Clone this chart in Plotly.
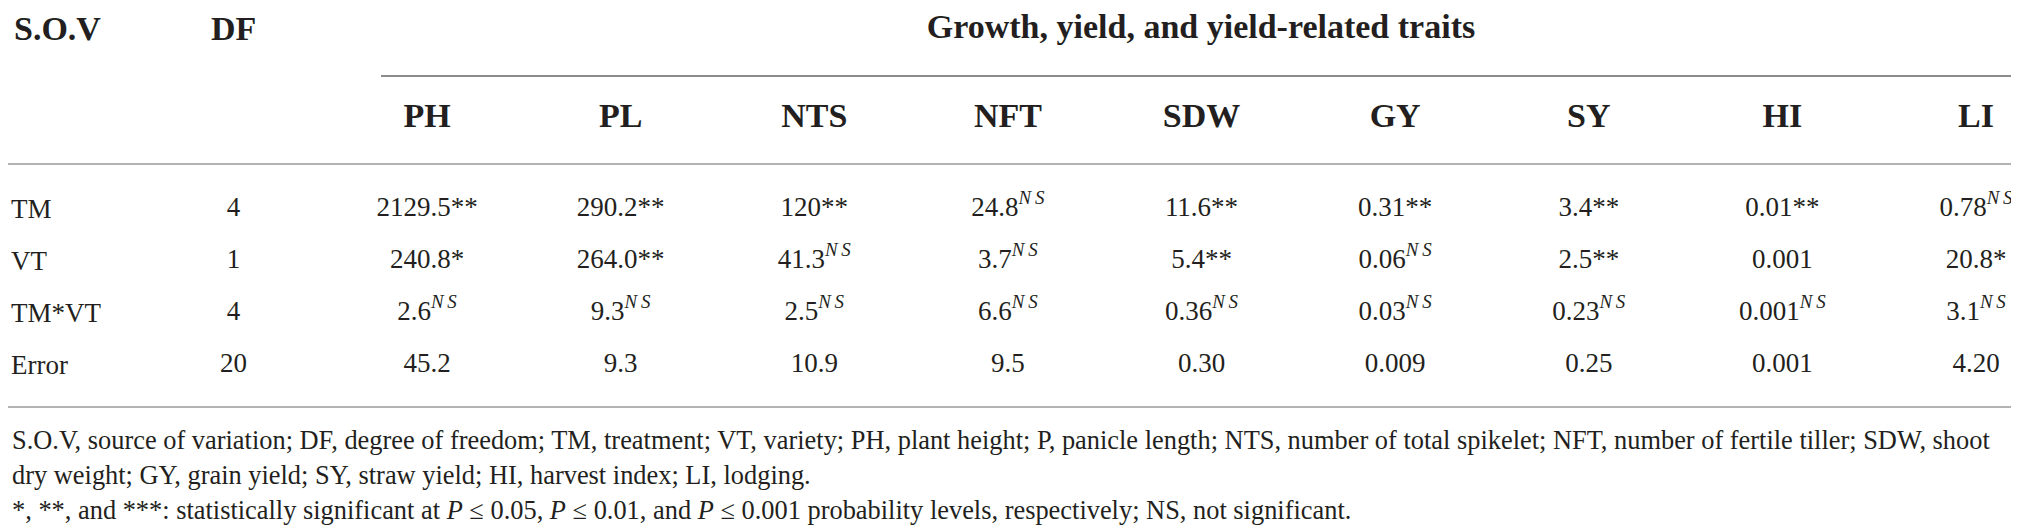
import plotly.graph_objects as go

# rows / columns of the ANOVA table
SOURCES = ["TM", "VT", "TM*VT", "Error"]
DF_VALUES = ["4", "1", "4", "20"]
TRAITS = ["PH", "PL", "NTS", "NFT", "SDW", "GY", "SY", "HI", "LI"]

# mean squares and significance marks per trait
PH = ["2129.5", "240.8", "2.6", "45.2"]
PH_SIG = ["**", "*", "NS", ""]
PL = ["290.2", "264.0", "9.3", "9.3"]
PL_SIG = ["**", "**", "NS", ""]
NTS = ["120", "41.3", "2.5", "10.9"]
NTS_SIG = ["**", "NS", "NS", ""]
NFT = ["24.8", "3.7", "6.6", "9.5"]
NFT_SIG = ["NS", "NS", "NS", ""]
SDW = ["11.6", "5.4", "0.36", "0.30"]
SDW_SIG = ["**", "**", "NS", ""]
GY = ["0.31", "0.06", "0.03", "0.009"]
GY_SIG = ["**", "NS", "NS", ""]
SY = ["3.4", "2.5", "0.23", "0.25"]
SY_SIG = ["**", "**", "NS", ""]
HI = ["0.01", "0.001", "0.001", "0.001"]
HI_SIG = ["**", "", "NS", ""]
LI = ["0.78", "20.8", "3.1", "4.20"]
LI_SIG = ["NS", "*", "NS", ""]

GROUP_TITLE = "Growth, yield, and yield-related traits"
FOOTNOTES = [
    "S.O.V, source of variation; DF, degree of freedom; TM, treatment; VT, variety; PH, plant height; "
    "P, panicle length; NTS, number of total spikelet; NFT, number of fertile tiller; SDW, shoot",
    "dry weight; GY, grain yield; SY, straw yield; HI, harvest index; LI, lodging.",
    "*, **, and ***: statistically significant at <i>P</i> \u2264 0.05, <i>P</i> \u2264 0.01, "
    "and <i>P</i> \u2264 0.001 probability levels, respectively; NS, not significant.",
]

# layout, in pixels
W, H = 2019, 526
FONT = "Liberation Serif"
INK = "#231f20"
RULE_TOP, RULE_BOTTOM = 157, 398
ROW_FIRST, ROW_LAST = 201, 357
COL_FIRST, COL_LAST = 419, 1968
GROUP_RULE, GROUP_X0, GROUP_X1 = 68, 373, 2013
HEADER_Y = 21
FOOT_Y = [432, 467, 502]


def fmt(value, sig):
    if sig == "NS":
        return value + "<sup><i>N\u2009S</i></sup>"
    return value + sig


columns = ["DF"] + TRAITS
trait_cols = [(PH, PH_SIG), (PL, PL_SIG), (NTS, NTS_SIG), (NFT, NFT_SIG), (SDW, SDW_SIG),
              (GY, GY_SIG), (SY, SY_SIG), (HI, HI_SIG), (LI, LI_SIG)]

fig = go.Figure()

text_font = dict(family=FONT, size=27, color=INK)
fig.add_trace(go.Scatter(x=["DF"] * len(SOURCES), y=SOURCES, text=DF_VALUES, mode="text",
                         textfont=text_font, hoverinfo="skip", cliponaxis=False, showlegend=False))
for name, (vals, sigs) in zip(TRAITS, trait_cols):
    fig.add_trace(go.Scatter(
        x=[name] * len(vals), y=SOURCES,
        text=[fmt(v, s) for v, s in zip(vals, sigs)],
        mode="text", textfont=text_font, hoverinfo="skip", cliponaxis=False, showlegend=False,
    ))
# empty trace so the group-header axis gets drawn
fig.add_trace(go.Scatter(x=[], y=[], xaxis="x3", yaxis="y", hoverinfo="skip", showlegend=False))

# category -> pixel mapping
xstep = (COL_LAST - COL_FIRST) / (len(TRAITS) - 1)
x0 = COL_FIRST - xstep
ystep = (ROW_LAST - ROW_FIRST) / (len(SOURCES) - 1)

fig.update_layout(
    width=W, height=H, autosize=False,
    margin=dict(l=0, r=0, t=0, b=0),
    paper_bgcolor="white", plot_bgcolor="rgba(0,0,0,0)",
    font=dict(family=FONT, color=INK),
    xaxis=dict(
        type="category", categoryarray=columns,
        range=[(0 - x0) / xstep, (W - x0) / xstep],
        side="top", showline=True, mirror=True, linecolor="#b3b3b3", linewidth=1.5,
        showgrid=False, zeroline=False, ticks="",
        tickvals=TRAITS, ticktext=["<b>%s</b>" % t for t in TRAITS],
        tickfont=dict(family=FONT, size=34, color=INK), ticklabelstandoff=23,
    ),
    yaxis=dict(
        type="category", categoryarray=SOURCES,
        domain=[(H - RULE_BOTTOM) / H, (H - RULE_TOP) / H],
        range=[(RULE_BOTTOM - ROW_FIRST) / ystep, (RULE_TOP - ROW_FIRST) / ystep],
        showline=False, showgrid=False, zeroline=False, ticks="",
        ticklabelposition="inside", tickfont=dict(family=FONT, size=27, color=INK),
    ),
    xaxis3=dict(
        anchor="free", position=(H - GROUP_RULE) / H, domain=[GROUP_X0 / W, GROUP_X1 / W],
        side="top", showline=True, linecolor="#8c8c8c", linewidth=1.5, range=[0, 1],
        showticklabels=False, ticks="", showgrid=False, zeroline=False,
        title=dict(text="<b>%s</b>" % GROUP_TITLE, standoff=30,
                   font=dict(family=FONT, size=34, color=INK)),
    ),
)

header_font = dict(family=FONT, size=34, color=INK)
fig.add_annotation(text="<b>S.O.V</b>", xref="paper", yref="paper", x=0, y=(H - HEADER_Y) / H,
                   xanchor="left", yanchor="middle", showarrow=False, xshift=4, font=header_font)
fig.add_annotation(text="<b>DF</b>", xref="x", yref="paper", x="DF", y=(H - HEADER_Y) / H,
                   xanchor="center", yanchor="middle", showarrow=False, font=header_font)

for line, y in zip(FOOTNOTES, FOOT_Y):
    fig.add_annotation(text=line, xref="paper", yref="paper", x=0, y=(H - y) / H,
                       xanchor="left", yanchor="middle", showarrow=False, xshift=2,
                       font=dict(family=FONT, size=26.4, color=INK))

fig.write_html("out.html")
